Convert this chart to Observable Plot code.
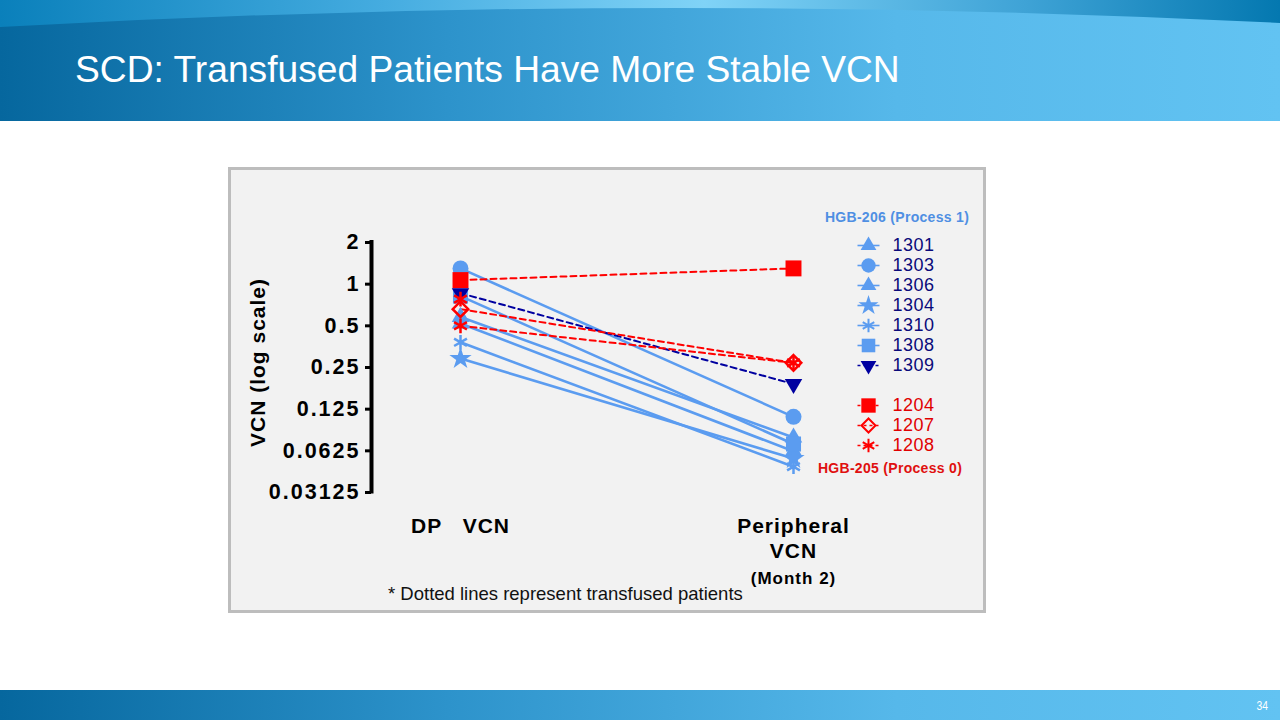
<!DOCTYPE html>
<html>
<head>
<meta charset="utf-8">
<script src="https://cdn.jsdelivr.net/npm/d3@7"></script>
<script src="https://cdn.jsdelivr.net/npm/@observablehq/plot@0.6"></script>
<style>
  html, body { margin: 0; padding: 0; }
  body { width: 1280px; height: 720px; overflow: hidden; background: #ffffff; position: relative;
         font-family: "Liberation Sans", Arial, sans-serif; }
  #hdr, #ftr { position: absolute; left: 0; }
  #hdr { top: 0; }
  #ftr { top: 690px; }
  #title { position: absolute; left: 75px; top: 51px; color: #ffffff; font-size: 37.2px; line-height: 37px; white-space: nowrap; }
  #pagenum { position: absolute; left: 1255px; top: 699px; color: #ffffff; font-size: 13px; line-height: 13px; transform: scaleX(0.8); }
  #panel { position: absolute; left: 228px; top: 167px; width: 758px; height: 446px; background: #f2f2f2;
           box-shadow: inset 0 0 0 3px #bdbdbd; }
  #chart { position: absolute; left: 0; top: 0; }
  #legend { position: absolute; left: 587px; top: 63px; }
  .gtitle { position: absolute; font-weight: bold; font-size: 14px; line-height: 14px; white-space: nowrap; letter-spacing: 0.3px;
            transform: translate(-50%, -50%); }
  #note { position: absolute; left: 160px; top: 418px; font-size: 18.5px; line-height: 18.5px; white-space: nowrap; color: #111; }
</style>
</head>
<body>
<svg id="hdr" width="1280" height="121">
  <defs>
    <linearGradient id="gBand" x1="0" x2="1" y1="0" y2="0">
      <stop offset="0" stop-color="#06679e"/>
      <stop offset="0.35" stop-color="#2d93cb"/>
      <stop offset="0.7" stop-color="#56b8ea"/>
      <stop offset="1" stop-color="#62c3f2"/>
    </linearGradient>
    <linearGradient id="gTop" x1="0" x2="1" y1="0" y2="0">
      <stop offset="0" stop-color="#0a80bb"/>
      <stop offset="0.3" stop-color="#45ace0"/>
      <stop offset="0.55" stop-color="#80d3f7"/>
      <stop offset="0.8" stop-color="#3fa3d6"/>
      <stop offset="1" stop-color="#0478b0"/>
    </linearGradient>
  </defs>
  <rect x="0" y="0" width="1280" height="121" fill="url(#gBand)"/>
  <path d="M0,0 H1280 V23 Q640,-9 0,27 Z" fill="url(#gTop)"/>
</svg>
<div id="title">SCD: Transfused Patients Have More Stable VCN</div>

<div id="panel">
  <div id="chart"></div>
  <div id="legend"></div>
  <div class="gtitle" style="left:669px; top:50px; color:#4f8fe3;">HGB-206 (Process 1)</div>
  <div class="gtitle" style="left:662px; top:301px; color:#e01010;">HGB-205 (Process 0)</div>
  <div id="note">* Dotted lines represent transfused patients</div>
</div>

<svg id="ftr" width="1280" height="30">
  <rect x="0" y="0" width="1280" height="30" fill="url(#gBand)"/>
</svg>
<div id="pagenum">34</div>

<script>
// ---------------- DATA ----------------
const stages = ["DP VCN", "Peripheral VCN"];
const xTickLabels = ["DP\u00a0\u00a0 VCN", "Peripheral\nVCN"];
const xSubLabels = ["", "(Month 2)"];
const yTicks = [2, 1, 0.5, 0.25, 0.125, 0.0625, 0.03125];
const yTickLabels = ["2", "1", "0.5", "0.25", "0.125", "0.0625", "0.03125"];
const yLabel = "VCN (log scale)";

const patients   = ["1301", "1303", "1306", "1304", "1310", "1308", "1309", "1204", "1207", "1208"];
const studies    = ["HGB-206", "HGB-206", "HGB-206", "HGB-206", "HGB-206", "HGB-206", "HGB-206", "HGB-205", "HGB-205", "HGB-205"];
const transfused = [false, false, false, false, false, false, true, true, true, true];
const dpVCN         = [0.58, 1.30, 0.52, 0.29, 0.38, 0.82, 0.86, 1.07, 0.66, 0.50];
const peripheralVCN = [0.078, 0.110, 0.062, 0.055, 0.048, 0.070, 0.190, 1.30, 0.27, 0.27];
// additional DP measurement shown without a connecting line
const extraPatients = ["1208"];
const extraDPVCN    = [0.78];

// ---------------- STYLE OPTIONS ----------------
const LIGHT = "#5b9cf0", NAVY = "#0000a0", RED = "#ff0000";
const look = {
  "1301": {color: LIGHT, symbol: "triangle", r: 6.5, filled: true},
  "1303": {color: LIGHT, symbol: "circle", r: 8, filled: true},
  "1306": {color: LIGHT, symbol: "triangle", r: 6.5, filled: true},
  "1304": {color: LIGHT, symbol: "star", r: 7, filled: true},
  "1310": {color: LIGHT, symbol: "asterisk", r: 7, filled: false},
  "1308": {color: LIGHT, symbol: "square", r: 8.5, filled: true},
  "1309": {color: NAVY, symbol: "triangle", r: 6.5, filled: true, rotate: 180},
  "1204": {color: RED, symbol: "square", r: 9, filled: true},
  "1207": {color: RED, symbol: "diamond2", r: 7, filled: false},
  "1208": {color: RED, symbol: "asterisk", r: 7, filled: false}
};

const rows = patients.flatMap((p, i) => [
  {patient: p, stage: stages[0], vcn: dpVCN[i]},
  {patient: p, stage: stages[1], vcn: peripheralVCN[i]}
]);
const extraRows = extraPatients.map((p, i) => ({patient: p, stage: stages[0], vcn: extraDPVCN[i]}));

function dotOpts(p, extra = {}) {
  const L = look[p];
  const o = {x: "stage", y: "vcn", symbol: L.symbol, r: L.r, ...extra};
  if (L.filled) { o.fill = L.color; o.stroke = "none"; }
  else { o.fill = "none"; o.stroke = L.color; o.strokeWidth = 2.5; }
  if (L.rotate) o.rotate = L.rotate;
  return o;
}

// drawing order: light blue first, then navy, then red on top
const rank = i => look[patients[i]].color === LIGHT ? 0 : look[patients[i]].color === NAVY ? 1 : 2;
const order = patients.map((p, i) => i).sort((a, b) => rank(a) - rank(b));

const marks = [];
for (const i of order) {
  const p = patients[i];
  marks.push(Plot.line(rows.filter(d => d.patient === p), {
    x: "stage", y: "vcn", stroke: look[p].color,
    strokeWidth: transfused[i] ? 2 : 2.6,
    strokeDasharray: transfused[i] ? "6,4" : null
  }));
}
for (const i of order) {
  const p = patients[i];
  marks.push(Plot.dot(rows.filter(d => d.patient === p), dotOpts(p)));
  const ex = extraRows.filter(d => d.patient === p);
  if (ex.length) marks.push(Plot.dot(ex, dotOpts(p)));
}

const chart = Plot.plot({
  width: 758,
  height: 446,
  marginTop: 75,
  marginBottom: 121,
  marginLeft: 143,
  marginRight: 20,
  style: {background: "transparent", fontFamily: "'Liberation Sans', Arial, sans-serif", fontSize: "21px",
          fontWeight: "bold", letterSpacing: "1px", color: "#000", overflow: "visible"},
  x: {type: "point", domain: stages, range: [232, 565], padding: 0, axis: null},
  y: {type: "log", base: 2, domain: [0.03125, 2], axis: null, label: null},
  marks: [
    Plot.ruleX([stages[0]], {x: d => d, y1: 2.07, y2: 0.0305, dx: -89, stroke: "#000", strokeWidth: 4}),
    Plot.axisY({ticks: yTicks, tickFormat: d => yTickLabels[yTicks.indexOf(d)], tickSize: 6, tickPadding: 5,
                strokeWidth: 3, stroke: "#000", fill: "#000", label: null, fontSize: 21.5}),
    Plot.axisX({tickSize: 0, tickPadding: 23, tickFormat: d => xTickLabels[stages.indexOf(d)],
                lineHeight: 1.19, label: null, fontSize: 21, fill: "#000"}),
    Plot.text(stages, {x: d => d, frameAnchor: "bottom", text: (d, i) => xSubLabels[i], dy: 86,
                       fontSize: 17, lineAnchor: "middle", fill: "#000"}),
    Plot.text([yLabel], {frameAnchor: "left", text: d => d, rotate: -90, dx: -113, dy: -5,
                         textAnchor: "middle", fontSize: 21, fill: "#000", style: "letter-spacing:0"}),
    ...marks
  ]
});
// wider tracking on the y tick labels, as in the reference
d3.select(chart).selectAll('g[aria-label="y-axis tick label"]').style("letter-spacing", "2px");
document.getElementById("chart").appendChild(chart);

// ---------------- LEGEND ----------------
const SPACER = "\u2007";
const legendRows = [...patients.slice(0, 7), SPACER, ...patients.slice(7)];
const stub = {draw(ctx, size) { const r = Math.sqrt(size / Math.PI); ctx.moveTo(-r, 0); ctx.lineTo(r, 0); }};
const legendMarks = [];
patients.forEach((p, i) => {
  legendMarks.push(Plot.dot([p], {x: () => "sym", y: d => d, symbol: stub, r: 11, stroke: look[p].color,
                                  strokeWidth: 1.6, strokeDasharray: transfused[i] ? "3,3" : null}));
  const L = look[p];
  const o = {x: () => "sym", y: d => d, symbol: L.symbol, r: L.r * 0.9};
  if (L.filled) { o.fill = L.color; } else { o.fill = "none"; o.stroke = L.color; o.strokeWidth = 2; }
  if (L.rotate) o.rotate = L.rotate;
  legendMarks.push(Plot.dot([p], o));
  legendMarks.push(Plot.text([p], {x: () => "lab", y: d => d, text: d => d, textAnchor: "start",
                                   fill: studies[i] === "HGB-206" ? "#0a0a7a" : "#e00000"}));
});
const legend = Plot.plot({
  width: 165,
  height: 230,
  margin: 0,
  style: {background: "transparent", fontFamily: "'Liberation Sans', Arial, sans-serif", fontSize: "18px",
          letterSpacing: "0.5px", overflow: "visible"},
  x: {type: "point", domain: ["sym", "lab"], range: [53, 77], padding: 0, axis: null},
  y: {type: "point", domain: legendRows, range: [13, 217], padding: 0, axis: null},
  marks: legendMarks
});
document.getElementById("legend").appendChild(legend);
</script>
</body>
</html>
